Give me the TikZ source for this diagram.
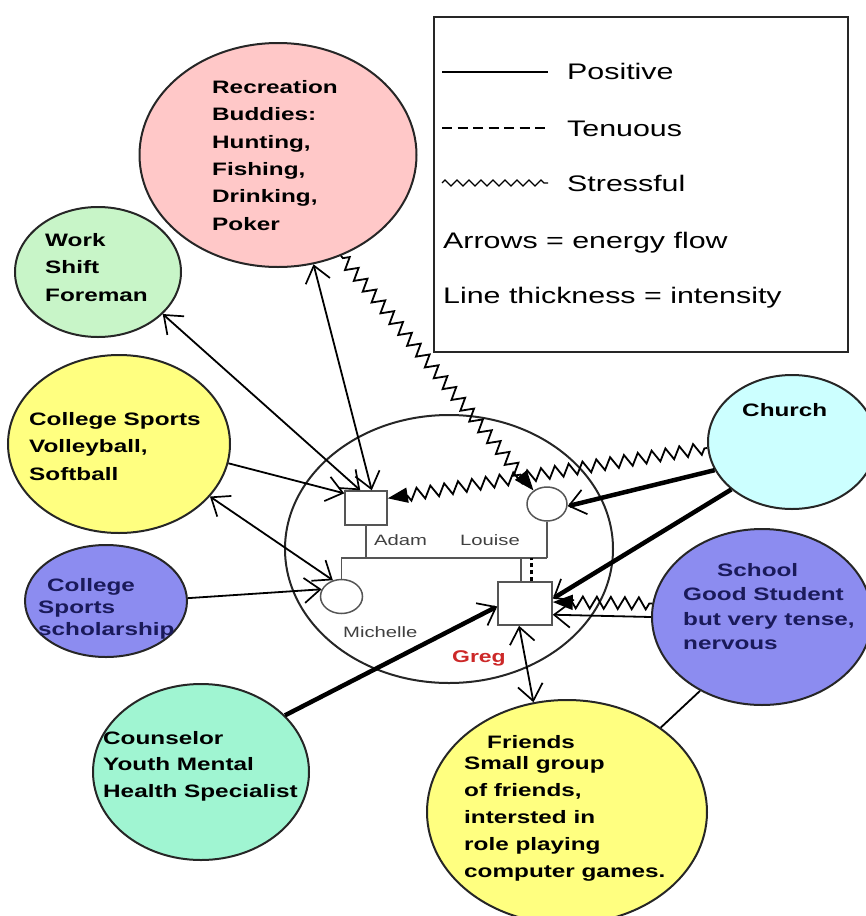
\documentclass[tikz,border=0pt]{standalone}
\usepackage{fontspec}
\setmainfont{Liberation Sans}[FakeStretch=1.35]
\usetikzlibrary{arrows.meta,shapes.geometric,decorations.pathmorphing}

\definecolor{recfill}{HTML}{FFC8C8}
\definecolor{workfill}{HTML}{C8F5C8}
\definecolor{yelfill}{HTML}{FFFF80}
\definecolor{bluefill}{HTML}{8C8CF0}
\definecolor{churchfill}{HTML}{CCFFFF}
\definecolor{counsfill}{HTML}{A0F5D2}
\definecolor{navy}{HTML}{1A1A5A}
\definecolor{famgray}{HTML}{555555}
\definecolor{gregred}{HTML}{CC2828}

\begin{document}
\begin{tikzpicture}[x=1pt,y=-1pt,
  >={Straight Barb[length=16pt,width=25pt,line width=1.7pt 0]},
  eco/.style={ellipse, draw=black!85, line width=2pt, inner sep=0pt},
  lbl/.style={anchor=north west, inner sep=0pt, align=left, text=black,
    font=\bfseries\fontsize{18}{27.4}\selectfont},
  memb/.style={draw=famgray, line width=1.5pt, fill=white, inner sep=0pt},
  fam/.style={draw=famgray, line width=1.8pt},
  famtxt/.style={anchor=base west, inner sep=0pt, text=black!75,
    font=\fontsize{15}{18}\selectfont},
  legtxt/.style={anchor=base west, inner sep=0pt, font=\fontsize{22.5}{27}\selectfont},
  tie/.style={line width=1.8pt},
  strong/.style={line width=4.5pt},
  stress/.style={line width=1.8pt, decorate,
    decoration={zigzag, segment length=14pt, amplitude=6pt, pre length=3pt, post length=16pt}},
  fillhead/.style={-{Triangle[length=20pt,width=15pt]}}
]
\useasboundingbox (0,0) rectangle (866,916);
\clip (0,0) rectangle (866,916);

% legend
\node[draw=black!85, line width=2pt, minimum width=414pt, minimum height=335pt, inner sep=0pt] (legend) at (641,184.5) {};
\draw[line width=1.6pt] (442,72) -- (548,72);
\draw[line width=1.6pt, dash pattern=on 10pt off 5.5pt] (442,128) -- (548,128);
\draw[line width=1.3pt, decorate, decoration={zigzag, segment length=12pt, amplitude=3pt}] (442,183) -- (548,183);
\node[legtxt] (lpos) at (567,79) {Positive};
\node[legtxt] (lten) at (567,136) {Tenuous};
\node[legtxt] (lstr) at (567,191) {Stressful};
\node[legtxt] (larr) at (443,248) {Arrows = energy flow};
\node[legtxt] (lthk) at (443,303) {Line thickness = intensity};

% ecomap systems
\node[eco, fill=recfill, minimum width=277pt, minimum height=224pt] (rec) at (278,155) {};
\node[eco, fill=workfill, minimum width=166pt, minimum height=130pt] (work) at (98,272) {};
\node[eco, fill=yelfill, minimum width=222pt, minimum height=178pt] (volley) at (119,444) {};
\node[eco, fill=bluefill, minimum width=162pt, minimum height=112pt] (schol) at (106,601) {};
\node[eco, fill=counsfill, minimum width=216pt, minimum height=176pt] (couns) at (201,772) {};
\node[eco, fill=yelfill, minimum width=280pt, minimum height=224pt] (friends) at (567,812) {};
\node[eco, fill=bluefill, minimum width=220pt, minimum height=176pt] (school) at (762,617) {};
\node[eco, fill=churchfill, minimum width=168pt, minimum height=134pt] (church) at (792,442) {};
\node[eco, minimum width=328pt, minimum height=268pt] (family) at (449,549) {};

% family members
\coordinate (bar) at (0,558);
\node[memb, rectangle, minimum width=42pt, minimum height=34pt] (adam) at (366,508) {};
\node[memb, ellipse, minimum width=40pt, minimum height=34pt] (louise) at (547,504) {};
\node[memb, ellipse, minimum width=42pt, minimum height=34pt] (michelle) at (341.5,596.5) {};
\node[memb, rectangle, minimum width=54pt, minimum height=43pt] (greg) at (525,603.5) {};
\draw[fam] (adam.south) -- (adam.south |- bar);
\draw[fam] (louise.south) -- (louise.south |- bar);
\draw[fam] (michelle.north) -- (michelle.north |- bar) -- (louise.south |- bar);
\draw[fam] ([xshift=-4pt]greg.north) -- ([xshift=-4pt]greg.north |- bar);
\draw[line width=3pt, dash pattern=on 4pt off 3pt] ([xshift=6pt]greg.north) -- ([xshift=6pt]greg.north |- bar);

% connectors
\draw[tie, <->] (rec.-72) -- (adam.72);
\draw[tie, <->] (work.-33) -- (adam.108);
\draw[tie, ->] (volley.-10) -- (adam.146);
\draw[tie, <->] (volley.-30) -- (michelle.118);
\draw[tie, ->] (schol.2) -- (michelle.160);
\draw[stress, fillhead] (rec.-58) -- (louise.135);
\draw[stress, fillhead] (church.184) -- (adam.24);
\draw[strong, ->] (church.200) -- (louise.-6);
\draw[strong, ->] (church.218) -- (greg.10);
\draw[tie, ->] (school.180) -- (greg.-22);
\draw[stress, fillhead] (school.173) -- (greg.3);
\draw[tie] (school.230) -- (friends.42);
\draw[tie, <->] (greg.-105) -- (friends.107);
\draw[strong, ->] (couns.34) -- (greg.186);

% texts
\node[lbl] (recT) at (212,80) {Recreation\\Buddies:\\Hunting,\\Fishing,\\Drinking,\\Poker};
\node[lbl, font=\bfseries\fontsize{18}{27.5}\selectfont] (workT) at (45,233) {Work\\Shift\\Foreman};
\node[lbl, font=\bfseries\fontsize{18}{27.5}\selectfont] (volT) at (29,412) {College Sports\\Volleyball,\\Softball};
\node[lbl, text=navy, font=\bfseries\fontsize{18}{22}\selectfont] (scholT) at (38,578) {\hspace*{9pt}College\\Sports\\scholarship};
\node[lbl, font=\bfseries\fontsize{18}{26.5}\selectfont] (counsT) at (103,731) {Counselor\\Youth Mental\\Health Specialist};
\node[lbl, font=\bfseries\fontsize{18}{27}\selectfont] (friendsT) at (464,735) {\hspace*{23pt}Friends\\[-6pt]Small group\\of friends,\\intersted in\\role playing\\computer games.};
\node[lbl, text=navy, font=\bfseries\fontsize{18}{24.5}\selectfont] (schoolT) at (683,563) {\hspace*{34pt}School\\Good Student\\but very tense,\\nervous};
\node[lbl] (churchT) at (742,403) {Church};

\node[famtxt] (adamL) at (374,545) {Adam};
\node[famtxt] (louiseL) at (460,545) {Louise};
\node[famtxt] (michL) at (343,637) {Michelle};
\node[famtxt, text=gregred, font=\bfseries\fontsize{17}{20}\selectfont] (gregL) at (452,662) {Greg};
\end{tikzpicture}
\end{document}
